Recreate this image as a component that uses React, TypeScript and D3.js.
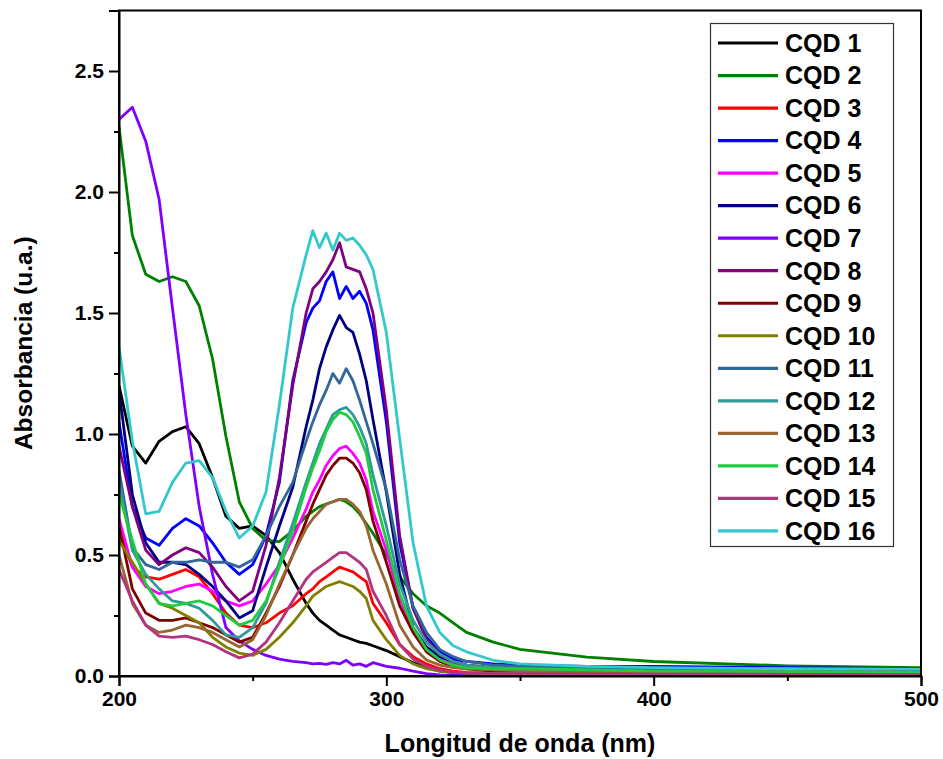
import React, { useEffect, useRef } from 'react';
import * as d3 from 'd3';

// wavelength grid (nm)
const wavelength = [200, 205, 210, 215, 220, 225, 230, 235, 240, 245, 250, 255, 260, 265,
  270, 272.5, 275, 277.5, 280, 282.5, 285, 287.5, 290, 292.5,
  295, 300, 305, 310, 315, 320, 325, 330,
  340, 350, 375, 400, 450, 500];

const cqd1 = [1.20, 0.95, 0.88, 0.97, 1.01, 1.03, 0.96, 0.82, 0.66, 0.61, 0.62, 0.58, 0.51, 0.40,
  0.30, 0.26, 0.23, 0.21, 0.19, 0.17, 0.16, 0.15, 0.14, 0.135,
  0.125, 0.105, 0.08, 0.055, 0.035, 0.02, 0.015, 0.012,
  0.01, 0.01, 0.008, 0.008, 0.006, 0.005];
const cqd2 = [2.27, 1.82, 1.66, 1.63, 1.65, 1.63, 1.53, 1.31, 0.99, 0.72, 0.61, 0.56, 0.555, 0.60,
  0.66, 0.68, 0.70, 0.71, 0.72, 0.73, 0.72, 0.70, 0.67, 0.63,
  0.59, 0.50, 0.41, 0.34, 0.29, 0.26, 0.22, 0.18,
  0.14, 0.11, 0.078, 0.06, 0.042, 0.034];
const cqd3 = [0.60, 0.45, 0.41, 0.40, 0.42, 0.44, 0.41, 0.34, 0.26, 0.21, 0.20, 0.22, 0.26, 0.29,
  0.34, 0.36, 0.39, 0.41, 0.43, 0.45, 0.44, 0.43, 0.41, 0.39,
  0.30, 0.22, 0.13, 0.08, 0.05, 0.03, 0.02, 0.015,
  0.012, 0.01, 0.01, 0.008, 0.008, 0.007];
const cqd4 = [1.05, 0.70, 0.57, 0.54, 0.61, 0.65, 0.62, 0.55, 0.47, 0.42, 0.46, 0.58, 0.80, 1.22,
  1.46, 1.52, 1.55, 1.63, 1.67, 1.56, 1.61, 1.56, 1.59, 1.54,
  1.43, 1.05, 0.55, 0.28, 0.16, 0.10, 0.07, 0.06,
  0.05, 0.045, 0.04, 0.04, 0.035, 0.03];
const cqd5 = [0.65, 0.45, 0.37, 0.34, 0.35, 0.37, 0.38, 0.35, 0.31, 0.29, 0.31, 0.38, 0.46, 0.57,
  0.69, 0.76, 0.81, 0.87, 0.91, 0.94, 0.95, 0.92, 0.88, 0.81,
  0.68, 0.52, 0.32, 0.19, 0.11, 0.07, 0.05, 0.035,
  0.025, 0.02, 0.015, 0.012, 0.01, 0.01];
const cqd6 = [1.18, 0.75, 0.55, 0.47, 0.47, 0.46, 0.42, 0.37, 0.31, 0.24, 0.27, 0.45, 0.62, 0.78,
  1.03, 1.14, 1.27, 1.36, 1.43, 1.49, 1.44, 1.42, 1.33, 1.22,
  1.06, 0.76, 0.42, 0.20, 0.12, 0.08, 0.06, 0.045,
  0.035, 0.03, 0.025, 0.02, 0.02, 0.018];
const cqd7 = [2.30, 2.35, 2.21, 1.97, 1.52, 1.08, 0.70, 0.42, 0.20, 0.145, 0.11, 0.085, 0.07, 0.06,
  0.055, 0.05, 0.052, 0.048, 0.055, 0.05, 0.065, 0.045, 0.05, 0.04,
  0.055, 0.04, 0.032, 0.02, 0.01, 0.005, 0.003, 0.002,
  0.001, 0.001, 0.001, 0.001, 0.001, 0.001];
const cqd8 = [0.95, 0.70, 0.52, 0.46, 0.50, 0.53, 0.51, 0.45, 0.37, 0.31, 0.35, 0.54, 0.82, 1.20,
  1.50, 1.60, 1.63, 1.67, 1.72, 1.79, 1.69, 1.68, 1.67, 1.60,
  1.50, 1.10, 0.58, 0.28, 0.15, 0.09, 0.06, 0.045,
  0.03, 0.025, 0.02, 0.015, 0.012, 0.01];
const cqd9 = [0.62, 0.36, 0.26, 0.23, 0.23, 0.24, 0.22, 0.20, 0.17, 0.14, 0.16, 0.26, 0.37, 0.50,
  0.64, 0.71, 0.77, 0.83, 0.87, 0.90, 0.90, 0.88, 0.84, 0.77,
  0.64, 0.47, 0.29, 0.18, 0.10, 0.06, 0.04, 0.03,
  0.02, 0.018, 0.015, 0.012, 0.01, 0.01];
const cqd10 = [0.56, 0.47, 0.38, 0.30, 0.28, 0.25, 0.22, 0.16, 0.12, 0.095, 0.085, 0.11, 0.16, 0.22,
  0.29, 0.33, 0.35, 0.37, 0.38, 0.39, 0.38, 0.37, 0.35, 0.32,
  0.23, 0.15, 0.085, 0.05, 0.03, 0.02, 0.015, 0.012,
  0.01, 0.01, 0.01, 0.008, 0.008, 0.007];
const cqd11 = [0.85, 0.53, 0.46, 0.44, 0.47, 0.47, 0.48, 0.47, 0.47, 0.45, 0.48, 0.58, 0.70, 0.80,
  0.97, 1.05, 1.12, 1.18, 1.25, 1.21, 1.27, 1.22, 1.14, 1.05,
  0.96, 0.77, 0.48, 0.29, 0.18, 0.11, 0.08, 0.06,
  0.045, 0.04, 0.035, 0.03, 0.028, 0.025];
const cqd12 = [0.80, 0.52, 0.42, 0.36, 0.31, 0.30, 0.28, 0.23, 0.17, 0.16, 0.20, 0.30, 0.47, 0.63,
  0.80, 0.88, 0.96, 1.02, 1.08, 1.10, 1.11, 1.08, 1.03, 0.96,
  0.83, 0.62, 0.38, 0.23, 0.14, 0.09, 0.06, 0.045,
  0.035, 0.03, 0.025, 0.02, 0.018, 0.015];
const cqd13 = [0.50, 0.30, 0.21, 0.18, 0.19, 0.21, 0.20, 0.18, 0.15, 0.12, 0.15, 0.25, 0.38, 0.50,
  0.61, 0.65, 0.68, 0.71, 0.72, 0.73, 0.73, 0.71, 0.68, 0.62,
  0.52, 0.38, 0.21, 0.12, 0.066, 0.045, 0.035, 0.03,
  0.025, 0.022, 0.02, 0.018, 0.017, 0.016];
const cqd14 = [0.75, 0.56, 0.38, 0.30, 0.29, 0.30, 0.31, 0.29, 0.25, 0.21, 0.23, 0.31, 0.45, 0.60,
  0.78, 0.86, 0.93, 1.01, 1.06, 1.09, 1.08, 1.05, 0.99, 0.92,
  0.77, 0.56, 0.34, 0.20, 0.11, 0.066, 0.045, 0.035,
  0.03, 0.03, 0.025, 0.02, 0.018, 0.015];
const cqd15 = [0.44, 0.31, 0.21, 0.165, 0.16, 0.165, 0.15, 0.13, 0.10, 0.075, 0.09, 0.14, 0.22, 0.31,
  0.40, 0.43, 0.45, 0.47, 0.49, 0.51, 0.51, 0.49, 0.47, 0.44,
  0.35, 0.25, 0.13, 0.07, 0.04, 0.025, 0.015, 0.012,
  0.01, 0.01, 0.008, 0.008, 0.007, 0.006];
const cqd16 = [1.36, 0.97, 0.67, 0.68, 0.80, 0.88, 0.89, 0.82, 0.68, 0.57, 0.62, 0.76, 1.12, 1.52,
  1.74, 1.84, 1.77, 1.83, 1.76, 1.83, 1.80, 1.81, 1.78, 1.74,
  1.68, 1.42, 0.98, 0.55, 0.29, 0.18, 0.125, 0.10,
  0.065, 0.05, 0.04, 0.035, 0.03, 0.028];

const seriesNames = ['CQD 1', 'CQD 2', 'CQD 3', 'CQD 4', 'CQD 5', 'CQD 6', 'CQD 7', 'CQD 8',
  'CQD 9', 'CQD 10', 'CQD 11', 'CQD 12', 'CQD 13', 'CQD 14', 'CQD 15', 'CQD 16'];
const seriesValues = [cqd1, cqd2, cqd3, cqd4, cqd5, cqd6, cqd7, cqd8,
  cqd9, cqd10, cqd11, cqd12, cqd13, cqd14, cqd15, cqd16];
const seriesColors = ['#000000', '#008000', '#ff0000', '#0000ff', '#ff00ff', '#000080', '#8000ff', '#800080',
  '#800000', '#808000', '#336699', '#2e9a9a', '#996633', '#1fcc3f', '#b3337f', '#33c8cc'];

const xTicks = [200, 300, 400, 500];
const xMinorTicks = [250, 350, 450];
const yTicks = [0, 0.5, 1.0, 1.5, 2.0, 2.5];
const yMinorTicks = [0.25, 0.75, 1.25, 1.75, 2.25];

const FONT = '"Liberation Sans", Arial, sans-serif';

function App() {
  const ref = useRef<SVGSVGElement>(null);

  useEffect(() => {
    const svg = d3.select(ref.current);
    svg.selectAll('*').remove();

    // plot box
    const left = 119, right = 921, top = 10.5, bottom = 676;

    const x = d3.scaleLinear().domain([200, 500]).range([left, right]);
    const y = d3.scaleLinear().domain([0, 2.75]).range([bottom, top]);

    svg.append('defs').append('clipPath').attr('id', 'plot-clip')
      .append('rect')
      .attr('x', left).attr('y', top)
      .attr('width', right - left).attr('height', bottom - top);

    // curves
    const lineGen = d3.line<number>()
      .x((d, i) => x(wavelength[i]))
      .y(d => y(d));

    const lines = svg.append('g').attr('clip-path', 'url(#plot-clip)');
    seriesValues.forEach((vals, i) => {
      lines.append('path')
        .datum(vals)
        .attr('fill', 'none')
        .attr('stroke', seriesColors[i])
        .attr('stroke-width', 2.8)
        .attr('stroke-linejoin', 'round')
        .attr('d', lineGen);
    });

    // frame
    svg.append('rect')
      .attr('x', left).attr('y', top)
      .attr('width', right - left).attr('height', bottom - top)
      .attr('fill', 'none')
      .attr('stroke', '#000')
      .attr('stroke-width', 2);

    // axes
    const xAxis = svg.append('g')
      .attr('transform', `translate(0,${bottom})`)
      .call(d3.axisBottom(x).tickValues(xTicks).tickFormat(d3.format('d')).tickSize(10).tickPadding(5));
    svg.append('g')
      .attr('transform', `translate(0,${bottom})`)
      .call(d3.axisBottom(x).tickValues(xMinorTicks).tickFormat(() => '').tickSize(5))
      .call(g => g.select('.domain').remove());

    const yAxis = svg.append('g')
      .attr('transform', `translate(${left},0)`)
      .call(d3.axisLeft(y).tickValues(yTicks).tickFormat(d3.format('.1f')).tickSize(10).tickPadding(5));
    svg.append('g')
      .attr('transform', `translate(${left},0)`)
      .call(d3.axisLeft(y).tickValues(yMinorTicks).tickFormat(() => '').tickSize(5))
      .call(g => g.select('.domain').remove());

    svg.selectAll('.tick line').attr('stroke', '#000').attr('stroke-width', 2);
    svg.selectAll('.domain').attr('stroke', '#000').attr('stroke-width', 2);
    [xAxis, yAxis].forEach(ax => {
      ax.selectAll('text')
        .attr('fill', '#000')
        .style('font-family', FONT)
        .style('font-weight', 'bold')
        .style('font-size', '21px');
    });

    // axis titles
    svg.append('text')
      .attr('x', (left + right) / 2)
      .attr('y', 752)
      .attr('text-anchor', 'middle')
      .style('font-family', FONT)
      .style('font-weight', 'bold')
      .style('font-size', '25px')
      .text('Longitud de onda (nm)');

    svg.append('text')
      .attr('transform', `translate(32,${(top + bottom) / 2}) rotate(-90)`)
      .attr('text-anchor', 'middle')
      .style('font-family', FONT)
      .style('font-weight', 'bold')
      .style('font-size', '24.5px')
      .text('Absorbancia (u.a.)');

    // legend
    const legend = svg.append('g');
    legend.append('rect')
      .attr('x', 710.5).attr('y', 23.5)
      .attr('width', 183).attr('height', 523)
      .attr('fill', '#fff')
      .attr('stroke', '#333')
      .attr('stroke-width', 1.2);

    seriesNames.forEach((name, i) => {
      const cy = 43 + i * 32.53;
      legend.append('line')
        .attr('x1', 718).attr('x2', 778)
        .attr('y1', cy).attr('y2', cy)
        .attr('stroke', seriesColors[i])
        .attr('stroke-width', 3.2);
      legend.append('text')
        .attr('x', 785)
        .attr('y', cy + 8.8)
        .style('font-family', FONT)
        .style('font-weight', 'bold')
        .style('font-size', '25px')
        .text(name);
    });
  }, []);

  return (
    <svg ref={ref} width={943} height={759}
      style={{ position: 'absolute', left: 0, top: 0, background: '#fff' }} />
  );
}

export default App;
